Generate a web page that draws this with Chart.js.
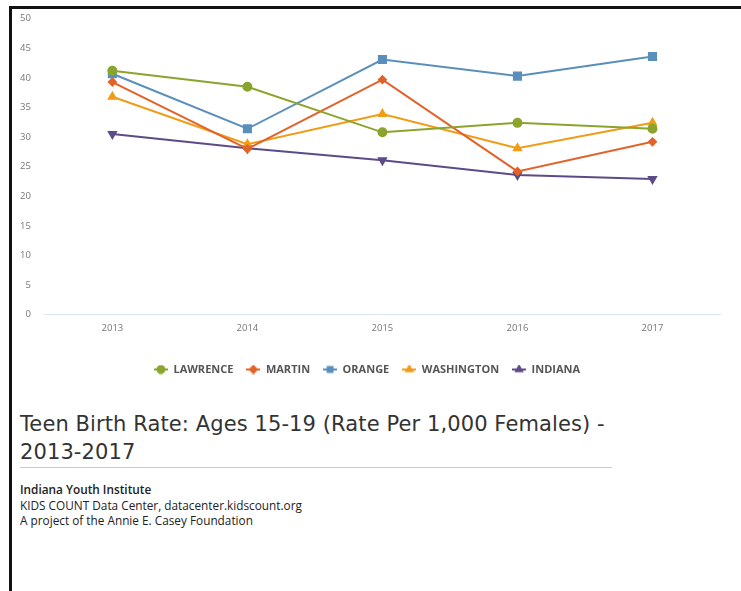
<!DOCTYPE html>
<html>
<head>
<meta charset="utf-8">
<script src="https://cdn.jsdelivr.net/npm/chart.js@4"></script>
<style>
    html, body { margin: 0; padding: 0; background: #fff; }
    body { width: 741px; height: 591px; overflow: hidden; position: relative; font-family: "Open Sans", sans-serif; }
    .frame { position: absolute; left: 9px; top: 6px; width: 740px; height: 600px; border-top: 3px solid #111; border-left: 3px solid #111; }
    .chartBox { position: absolute; left: 14px; top: 7px; width: 727px; height: 384px; }
    .title { position: absolute; left: 20px; top: 410px; width: 680px; font-family: "DejaVu Sans", sans-serif; font-size: 21px; letter-spacing: 0.1px; line-height: 28px; color: #333; }
    .rule { position: absolute; left: 20px; top: 467px; width: 592px; border-top: 1px solid #ccc; }
    .source { position: absolute; left: 20px; top: 482px; font-size: 11.8px; line-height: 15.5px; color: #222; }
    .source b { font-weight: 600; }
</style>
</head>
<body>
<div class="frame"></div>
<div class="chartBox"><canvas id="teenChart"></canvas></div>
<div class="title">Teen Birth Rate: Ages 15-19 (Rate Per 1,000 Females) -<br>2013-2017</div>
<div class="rule"></div>
<div class="source">
    <b>Indiana Youth Institute</b><br>
    KIDS COUNT Data Center, datacenter.kidscount.org<br>
    A project of the Annie E. Casey Foundation
</div>
<script>
const years = ["2013", "2014", "2015", "2016", "2017"];
const lawrence = [41.2, 38.5, 30.8, 32.4, 31.4];
const martin = [39.3, 28.0, 39.7, 24.2, 29.2];
const orange = [40.7, 31.4, 43.1, 40.3, 43.6];
const washington = [36.8, 28.8, 33.9, 28.1, 32.4];
const indiana = [30.5, 28.1, 26.1, 23.6, 22.9];
const yTicks = [0, 5, 10, 15, 20, 25, 30, 35, 40, 45, 50];

// small line + marker icon for the legend
function legendIcon(color, style, rotation) {
    const c = document.createElement("canvas");
    c.width = 14;
    c.height = 10;
    const g = c.getContext("2d");
    g.strokeStyle = color;
    g.lineWidth = 2;
    g.beginPath();
    g.moveTo(0, 5);
    g.lineTo(14, 5);
    g.stroke();
    Chart.helpers.drawPoint(g, { pointStyle: style, radius: 3.5, rotation: rotation || 0, borderWidth: 1 }, 7, 5);
    g.fillStyle = color;
    g.fill();
    return c;
}

function series(label, data, color, style, radius, rotation) {
    return {
        label: label,
        data: data,
        borderColor: color,
        backgroundColor: color,
        borderWidth: 2,
        pointStyle: style,
        pointRadius: radius,
        pointHoverRadius: radius,
        pointRotation: rotation || 0,
        tension: 0,
        fill: false,
        icon: legendIcon(color, style, rotation)
    };
}

const ctx = document.getElementById("teenChart").getContext("2d");

new Chart(ctx, {
    type: "line",
    data: {
        labels: years,
        datasets: [
            series("LAWRENCE", lawrence, "#8ba42e", "circle", 4),
            series("MARTIN", martin, "#e2632a", "rectRot", 3.5),
            series("ORANGE", orange, "#5a8fbc", "rect", 5),
            series("WASHINGTON", washington, "#f19c16", "triangle", 4),
            series("INDIANA", indiana, "#5d4b87", "triangle", 4, 180)
        ]
    },
    options: {
        responsive: true,
        maintainAspectRatio: false,
        animation: false,
        layout: { padding: { left: 0, right: 21, top: 0, bottom: 6 } },
        plugins: {
            legend: {
                position: "bottom",
                labels: {
                    usePointStyle: true,
                    pointStyleWidth: 14,
                    boxHeight: 10,
                    padding: 13,
                    color: "#555",
                    font: { family: "Open Sans", size: 11, weight: "bold" },
                    generateLabels: function(chart) {
                        const items = Chart.defaults.plugins.legend.labels.generateLabels(chart);
                        items.forEach(item => {
                            item.pointStyle = chart.data.datasets[item.datasetIndex].icon;
                        });
                        return items;
                    }
                }
            },
            tooltip: { enabled: true }
        },
        scales: {
            x: {
                offset: true,
                grid: { display: false },
                border: { display: true, color: "#dbe5f0", width: 1 },
                ticks: { color: "#777", padding: 0, font: { family: "Open Sans", size: 9.5 } },
                afterFit: axis => { axis.height += 17; }
            },
            y: {
                min: 0,
                max: 50,
                afterBuildTicks: axis => { axis.ticks = yTicks.map(v => ({ value: v })); },
                grid: { display: false },
                border: { display: false },
                ticks: { color: "#777", padding: 6, font: { family: "Open Sans", size: 9.5 } }
            }
        }
    }
});
</script>
</body>
</html>
